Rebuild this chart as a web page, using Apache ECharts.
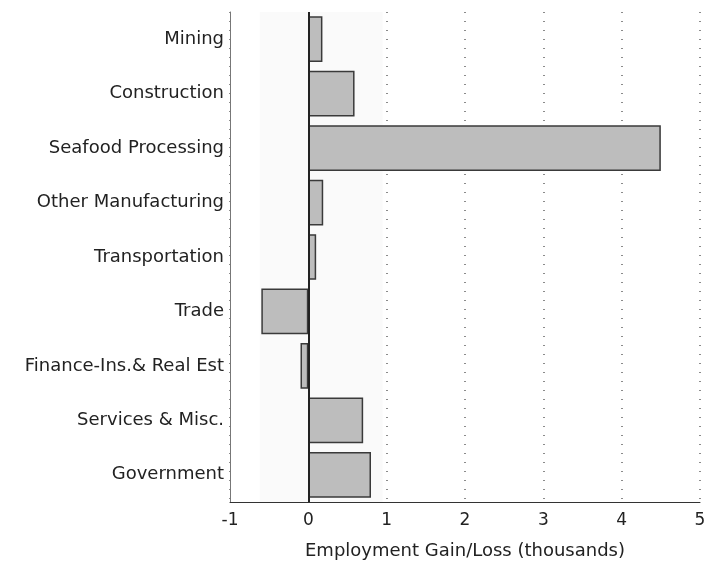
<!DOCTYPE html>
<html>
<head>
<meta charset="utf-8">
<script src="https://cdn.jsdelivr.net/npm/echarts@6/dist/echarts.min.js"></script>
<style>
  html, body { margin: 0; padding: 0; background: #fff; }
  #main { width: 709px; height: 565px; }
</style>
</head>
<body>
<div id="main"></div>
<script>
// industries, top to bottom
const industries = [
  'Mining', 'Construction', 'Seafood Processing', 'Other Manufacturing',
  'Transportation', 'Trade', 'Finance-Ins.& Real Est', 'Services & Misc.', 'Government'
];
// employment change, thousands
const gainLoss = [0.18, 0.59, 4.5, 0.19, 0.1, -0.6, -0.1, 0.7, 0.8];
const xTicks = [-1, 0, 1, 2, 3, 4, 5];

const chart = echarts.init(document.getElementById('main'));
const font = '"DejaVu Sans", Verdana, sans-serif';

chart.setOption({
  animation: false,
  grid: { left: 230, right: 9, top: 12, bottom: 63 },
  xAxis: {
    type: 'value',
    min: xTicks[0],
    max: xTicks[xTicks.length - 1],
    interval: 1,
    name: 'Employment Gain/Loss (thousands)',
    nameLocation: 'middle',
    nameGap: 40,
    nameTextStyle: { fontFamily: font, fontSize: 18, color: '#222' },
    axisLine: { show: true, onZero: false, lineStyle: { color: '#333', width: 1 } },
    axisTick: { show: false },
    axisLabel: {
      fontFamily: font, fontSize: 17, color: '#222', margin: 10,
      showMinLabel: true, showMaxLabel: true
    },
    splitLine: {
      show: true,
      lineStyle: { type: [1, 8], color: '#666', width: 1.5 }
    }
  },
  yAxis: {
    type: 'category',
    data: industries,
    inverse: true,
    axisLine: { show: true, onZero: false, lineStyle: { color: '#777', width: 1 } },
    axisTick: { show: false },
    axisLabel: { fontFamily: font, fontSize: 18, color: '#222', margin: 6 }
  },
  series: [{
    type: 'bar',
    data: gainLoss,
    barCategoryGap: '16%',
    itemStyle: { color: '#bdbdbd', borderColor: '#3a3a3a', borderWidth: 1.5 },
    markLine: {
      silent: true,
      symbol: 'none',
      label: { show: false },
      lineStyle: { color: '#222', width: 2, type: 'solid' },
      data: [{ xAxis: 0 }]
    },
    markArea: {
      silent: true,
      itemStyle: { color: 'rgba(0,0,0,0.02)' },
      data: [[{ xAxis: -0.62 }, { xAxis: 0.95 }]]
    }
  }]
});
</script>
</body>
</html>
